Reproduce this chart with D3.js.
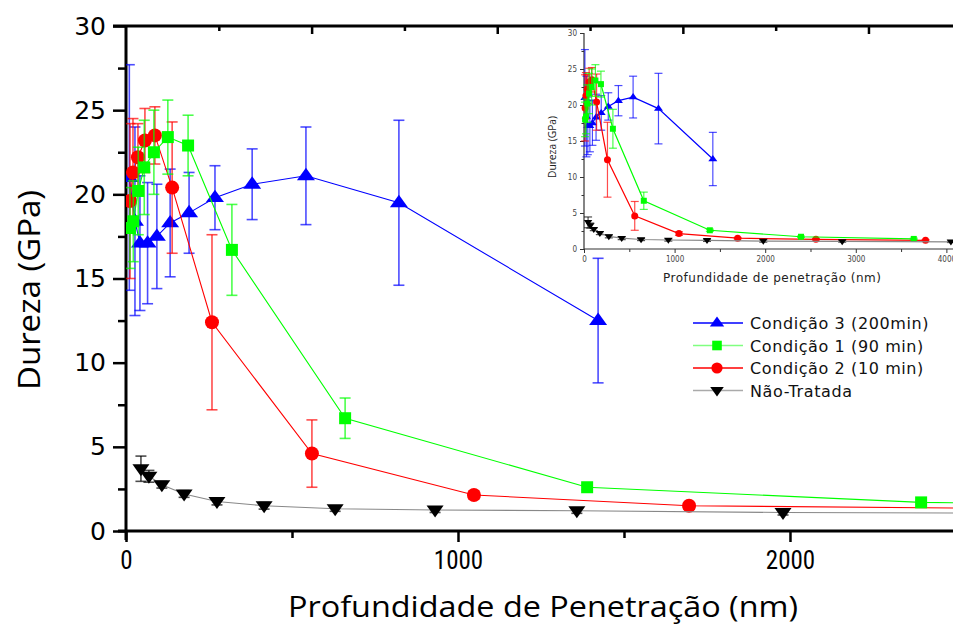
<!DOCTYPE html>
<html>
<head>
<meta charset="utf-8">
<script src="https://cdn.jsdelivr.net/npm/d3@7"></script>
<style>
  body { margin: 0; background: #fff; }
  svg { display: block; }
</style>
</head>
<body>
<script>
// valores (profundidade em nm, dureza em GPa, desvio em GPa)
const depthC3 = [10, 27, 42, 65, 93, 133, 190, 268, 380, 542, 822, 1422];
const hardC3  = [21.0, 18.4, 17.1, 17.1, 17.5, 18.3, 18.9, 19.8, 20.6, 21.1, 19.5, 12.5];
const errC3   = [6.7, 5.6, 4.0, 3.6, 3.1, 3.2, 2.4, 1.9, 2.1, 2.9, 4.9, 3.7];

const depthC1 = [12, 22, 37, 55, 84, 126, 187, 319, 660, 1389, 2395, 3640];
const hardC1  = [18.0, 18.4, 20.2, 21.6, 22.5, 23.4, 22.9, 16.7, 6.7, 2.6, 1.7, 1.4];
const errC1   = [2.4, 2.4, 2.6, 2.8, 2.5, 2.2, 1.8, 2.7, 1.2, 0.15, 0.1, 0.1];

const depthC2 = [12, 21, 36, 57, 87, 139, 259, 560, 1048, 1696, 2560, 3770];
const hardC2  = [19.6, 21.3, 22.2, 23.2, 23.5, 20.4, 12.4, 4.6, 2.14, 1.5, 1.35, 1.2];
const errC2   = [4.6, 3.2, 2.0, 1.9, 1.7, 3.9, 5.2, 2.0, 0.25, 0.1, 0.1, 0.1];

const depthNT = [45, 69, 108, 175, 274, 416, 630, 931, 1358, 1979, 2850, 4050];
const hardNT  = [3.7, 3.25, 2.75, 2.2, 1.75, 1.5, 1.32, 1.25, 1.2, 1.1, 1.05, 1.0];
const errNT   = [0.75, 0.35, 0.2, 0.2, 0.2, 0.2, 0.15, 0.15, 0.15, 0.15, 0.1, 0.1];

const seriesNames = ["Condição 3 (200min)", "Condição 1 (90 min)", "Condição 2 (10 min)", "Não-Tratada"];

const yMajorTicks = [0, 5, 10, 15, 20, 25, 30];
const yMinorTicks = [2.5, 7.5, 12.5, 17.5, 22.5, 27.5];
const xMajorTicks = [0, 1000, 2000];
const xMinorTicks = [500, 1500];
const insetXMajor = [0, 1000, 2000, 3000, 4000];
const insetXMinor = [500, 1500, 2500, 3500];

const width = 953, height = 625;

// séries (a ordem de desenho: azul, vermelho, verde, preto)
const series = [
  {name: seriesNames[0], x: depthC3, y: hardC3, e: errC3, color: "#0000ff", line: "#0000ff", legendLine: "#0000ff", shape: "up"},
  {name: seriesNames[1], x: depthC1, y: hardC1, e: errC1, color: "#00ff00", line: "#00ff00", legendLine: "#80ff80", shape: "square"},
  {name: seriesNames[2], x: depthC2, y: hardC2, e: errC2, color: "#ff0000", line: "#ff0000", legendLine: "#ff0000", shape: "circle"},
  {name: seriesNames[3], x: depthNT, y: hardNT, e: errNT, color: "#000000", line: "#888888", legendLine: "#aaaaaa", shape: "down"}
];
const drawOrder = [0, 2, 1, 3];

function markerPath(shape, s) {
  // s = escala do marcador (1 = gráfico principal)
  const p = d3.path();
  if (shape === "up") {
    const w = 9 * s, h = 8 * s;
    p.moveTo(0, -h); p.lineTo(w, h * 0.55); p.lineTo(-w, h * 0.55); p.closePath();
  } else if (shape === "down") {
    const w = 8.5 * s, h = 7.5 * s;
    p.moveTo(0, h); p.lineTo(w, -h * 0.6); p.lineTo(-w, -h * 0.6); p.closePath();
  } else if (shape === "square") {
    const a = 6 * s;
    p.rect(-a, -a, 2 * a, 2 * a);
  } else {
    const r = 7 * s;
    p.moveTo(r, 0); p.arc(0, 0, r, 0, 2 * Math.PI);
  }
  return p.toString();
}

const svg = d3.select("body").append("svg")
  .attr("width", width)
  .attr("height", height)
  .style("font-family", "'DejaVu Sans', Verdana, sans-serif");

// gráfico principal
const x = d3.scaleLinear().domain([0, 2488]).range([126, 952]);
const y = d3.scaleLinear().domain([0, 30]).range([531, 26]);

svg.append("clipPath").attr("id", "clipMain")
  .append("rect").attr("x", 126).attr("y", 0).attr("width", 827).attr("height", 531);

function drawSeries(g, sx, sy, opt) {
  drawOrder.forEach(i => {
    const s = series[i];
    const pts = s.x.map((d, k) => ({x: d, y: s.y[k], e: s.e[k]}));
    const sg = g.append("g");
    // barras de erro
    const eb = sg.selectAll(".eb").data(pts).join("g")
      .attr("stroke", s.color).attr("stroke-opacity", opt.errOpacity)
      .attr("stroke-width", opt.errWidth).attr("fill", "none");
    eb.append("line")
      .attr("x1", d => sx(d.x)).attr("x2", d => sx(d.x))
      .attr("y1", d => sy(d.y + d.e)).attr("y2", d => sy(d.y - d.e));
    eb.append("line")
      .attr("x1", d => sx(d.x) - opt.cap).attr("x2", d => sx(d.x) + opt.cap)
      .attr("y1", d => sy(d.y + d.e)).attr("y2", d => sy(d.y + d.e));
    eb.append("line")
      .attr("x1", d => sx(d.x) - opt.cap).attr("x2", d => sx(d.x) + opt.cap)
      .attr("y1", d => sy(d.y - d.e)).attr("y2", d => sy(d.y - d.e));
    // linha
    sg.append("path")
      .attr("d", d3.line().x(d => sx(d.x)).y(d => sy(d.y))(pts))
      .attr("fill", "none").attr("stroke", s.line).attr("stroke-width", opt.lineWidth);
    // marcadores
    sg.selectAll(".mk").data(pts).join("path")
      .attr("transform", d => `translate(${sx(d.x)},${sy(d.y)})`)
      .attr("d", markerPath(s.shape, opt.markerScale))
      .attr("fill", s.color);
  });
}

// eixo esquerdo
svg.append("g").attr("transform", "translate(126,0)")
  .call(d3.axisLeft(y).tickValues(yMinorTicks).tickSize(8).tickFormat("").tickSizeOuter(0))
  .call(g => g.select(".domain").remove())
  .selectAll("line").attr("stroke", "#000").attr("stroke-width", 2.5);
svg.append("g").attr("transform", "translate(126,0)")
  .call(d3.axisLeft(y).tickValues(yMajorTicks).tickSize(13).tickPadding(7).tickSizeOuter(0))
  .call(g => g.select(".domain").remove())
  .call(g => g.selectAll("line").attr("stroke", "#000").attr("stroke-width", 2.5))
  .call(g => g.selectAll("text").attr("font-size", 25).attr("fill", "#000")
    .attr("font-family", "'DejaVu Sans', Verdana, sans-serif"));

// eixo direito (apenas ticks para dentro, a linha fica fora da imagem)
svg.append("g").attr("transform", "translate(953,0)")
  .call(d3.axisLeft(y).tickValues(yMajorTicks).tickSize(-7).tickFormat("").tickSizeOuter(0))
  .call(g => g.select(".domain").remove())
  .selectAll("line").attr("stroke", "#000").attr("stroke-width", 2.5);
svg.append("g").attr("transform", "translate(953,0)")
  .call(d3.axisLeft(y).tickValues(yMinorTicks).tickSize(-3).tickFormat("").tickSizeOuter(0))
  .call(g => g.select(".domain").remove())
  .selectAll("line").attr("stroke", "#000").attr("stroke-width", 1.5);

// eixo inferior
svg.append("g").attr("transform", "translate(0,531)")
  .call(d3.axisBottom(x).tickValues(xMinorTicks).tickSize(7).tickFormat("").tickSizeOuter(0))
  .call(g => g.select(".domain").remove())
  .selectAll("line").attr("stroke", "#000").attr("stroke-width", 2.5);
svg.append("g").attr("transform", "translate(0,531)")
  .call(d3.axisBottom(x).tickValues(xMajorTicks).tickSize(11).tickPadding(9).tickFormat(d3.format("d")).tickSizeOuter(0))
  .call(g => g.select(".domain").remove())
  .call(g => g.selectAll("line").attr("stroke", "#000").attr("stroke-width", 2.5))
  .call(g => g.selectAll("text").attr("font-size", 25).attr("fill", "#000")
    .attr("font-family", "'Liberation Sans Narrow', 'Roboto Condensed', Roboto, sans-serif")
    .attr("dy", "0.72em"));

// eixo superior (moldura)
const xTop = d3.scaleLinear().domain([0, 8.9]).range([126, 952]);
svg.append("g").attr("transform", "translate(0,26)")
  .call(d3.axisBottom(xTop).tickValues([1, 3, 5, 7]).tickSize(5).tickFormat("").tickSizeOuter(0))
  .call(g => g.select(".domain").remove())
  .selectAll("line").attr("stroke", "#000").attr("stroke-width", 2.5);
svg.append("g").attr("transform", "translate(0,26)")
  .call(d3.axisBottom(xTop).tickValues([2, 4, 6, 8]).tickSize(8).tickFormat("").tickSizeOuter(0))
  .call(g => g.select(".domain").remove())
  .selectAll("line").attr("stroke", "#000").attr("stroke-width", 2.5);

// linhas dos eixos
svg.append("line").attr("x1", 126).attr("x2", 126).attr("y1", 25).attr("y2", 540)
  .attr("stroke", "#000").attr("stroke-width", 3);
svg.append("line").attr("x1", 118).attr("x2", 953).attr("y1", 531).attr("y2", 531)
  .attr("stroke", "#000").attr("stroke-width", 3);
svg.append("line").attr("x1", 113).attr("x2", 953).attr("y1", 26).attr("y2", 26)
  .attr("stroke", "#000").attr("stroke-width", 3);

// títulos dos eixos
svg.append("text")
  .attr("transform", "translate(40,290) rotate(-90)")
  .attr("text-anchor", "middle")
  .attr("font-family", "'Open Sans', 'Noto Sans', sans-serif")
  .attr("font-size", 31)
  .attr("textLength", 200).attr("lengthAdjust", "spacingAndGlyphs")
  .text("Dureza (GPa)");
svg.append("text")
  .attr("x", 543).attr("y", 617)
  .attr("text-anchor", "middle")
  .attr("font-family", "'Open Sans', 'Noto Sans', sans-serif")
  .attr("font-size", 30)
  .attr("textLength", 510).attr("lengthAdjust", "spacingAndGlyphs")
  .text("Profundidade de Penetração (nm)");

// dados do gráfico principal
drawSeries(svg.append("g").attr("clip-path", "url(#clipMain)"), x, y,
  {errOpacity: 0.7, errWidth: 1.6, cap: 5.5, lineWidth: 1.1, markerScale: 1});

// legenda
const legend = svg.append("g").attr("transform", "translate(693,323)");
series.forEach((s, i) => {
  const row = legend.append("g").attr("transform", `translate(0,${i * 22.5})`);
  row.append("line").attr("x1", 0).attr("x2", 50).attr("y1", 0).attr("y2", 0)
    .attr("stroke", s.legendLine).attr("stroke-width", 1.5);
  row.append("path").attr("transform", "translate(24,0)")
    .attr("d", markerPath(s.shape, 0.8)).attr("fill", s.color);
  row.append("text").attr("x", 57).attr("y", 6)
    .attr("font-size", 16).attr("fill", "#111")
    .attr("letter-spacing", 0.6)
    .text(s.name);
});

// gráfico inserido
const xi = d3.scaleLinear().domain([0, 4073]).range([584, 953]);
const yi = d3.scaleLinear().domain([0, 30]).range([249, 33]);
const inset = svg.append("g");

inset.append("g").attr("transform", "translate(584,0)")
  .call(d3.axisLeft(yi).tickValues(yMinorTicks).tickSize(2.5).tickFormat("").tickSizeOuter(0))
  .call(g => g.select(".domain").remove())
  .selectAll("line").attr("stroke", "#333");
inset.append("g").attr("transform", "translate(584,0)")
  .call(d3.axisLeft(yi).tickValues(yMajorTicks).tickSize(4).tickPadding(3).tickSizeOuter(0))
  .call(g => g.select(".domain").remove())
  .call(g => g.selectAll("line").attr("stroke", "#333"))
  .call(g => g.selectAll("text").attr("font-size", 8).attr("fill", "#444")
    .attr("font-family", "'DejaVu Sans Condensed', 'DejaVu Sans', sans-serif"));
inset.append("g").attr("transform", "translate(0,249)")
  .call(d3.axisBottom(xi).tickValues(insetXMinor).tickSize(3).tickFormat("").tickSizeOuter(0))
  .call(g => g.select(".domain").remove())
  .selectAll("line").attr("stroke", "#333");
inset.append("g").attr("transform", "translate(0,249)")
  .call(d3.axisBottom(xi).tickValues(insetXMajor).tickSize(4).tickPadding(3).tickFormat(d3.format("d")).tickSizeOuter(0))
  .call(g => g.select(".domain").remove())
  .call(g => g.selectAll("line").attr("stroke", "#333"))
  .call(g => g.selectAll("text").attr("font-size", 8).attr("fill", "#444")
    .attr("font-family", "'DejaVu Sans Condensed', 'DejaVu Sans', sans-serif"));
inset.append("line").attr("x1", 584).attr("x2", 584).attr("y1", 33).attr("y2", 249)
  .attr("stroke", "#333").attr("stroke-width", 1.2);
inset.append("line").attr("x1", 584).attr("x2", 953).attr("y1", 249).attr("y2", 249)
  .attr("stroke", "#333").attr("stroke-width", 1.2);

inset.append("text")
  .attr("transform", "translate(556,147) rotate(-90)")
  .attr("text-anchor", "middle")
  .attr("font-family", "'Open Sans', 'Noto Sans', sans-serif")
  .attr("font-size", 11).attr("fill", "#222")
  .attr("textLength", 62).attr("lengthAdjust", "spacingAndGlyphs")
  .text("Dureza (GPa)");
inset.append("text")
  .attr("x", 772).attr("y", 282)
  .attr("text-anchor", "middle")
  .attr("font-size", 12).attr("fill", "#222")
  .attr("textLength", 218).attr("lengthAdjust", "spacing")
  .text("Profundidade de penetração  (nm)");

drawSeries(inset.append("g"), xi, yi,
  {errOpacity: 0.7, errWidth: 1.2, cap: 4, lineWidth: 1.2, markerScale: 0.5});
</script>
</body>
</html>
